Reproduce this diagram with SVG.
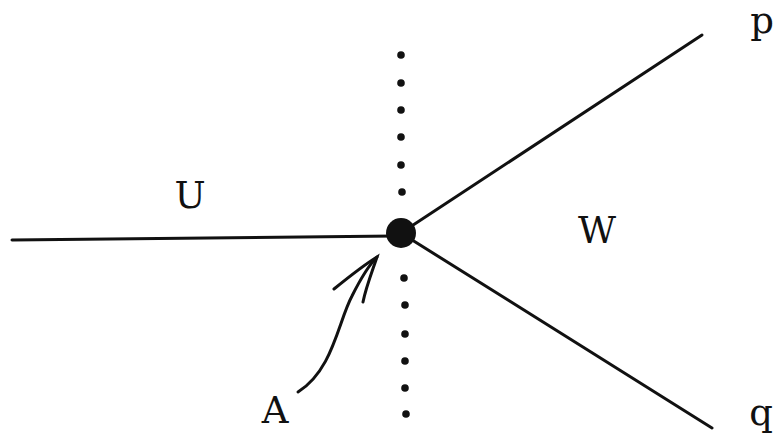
<svg xmlns="http://www.w3.org/2000/svg" width="778" height="436" viewBox="0 0 778 436">
<style>
.edge{stroke:#111;stroke-width:3;fill:none;stroke-linecap:round}
.dot{fill:#111}
.lbl{font-family:"DejaVu Serif","Liberation Serif",serif;font-size:37px;fill:#111;text-anchor:middle}
</style>
<rect width="778" height="436" fill="#fff"/>
<g id="connectors">
<line class="edge" x1="12" y1="240" x2="395" y2="236" stroke-width="3.5"/>
<line class="edge" x1="401" y1="233" x2="702" y2="35"/>
<line class="edge" x1="401" y1="233" x2="712" y2="428"/>
<path class="edge" d="M298,392 C333,370 338,322 352,296 C360,280 368,266 377,257"/>
<path class="edge" d="M334,289 C350,276 364,265 377,257 C372,272 366,287 363,302"/>
</g>
<g id="divider">
<circle class="dot" cx="401" cy="55" r="3.8"/>
<circle class="dot" cx="401" cy="83" r="3.8"/>
<circle class="dot" cx="401" cy="110" r="3.8"/>
<circle class="dot" cx="401" cy="137" r="3.8"/>
<circle class="dot" cx="401" cy="165" r="3.8"/>
<circle class="dot" cx="402" cy="192" r="3.8"/>
<circle class="dot" cx="404" cy="278" r="3.8"/>
<circle class="dot" cx="405" cy="305" r="3.8"/>
<circle class="dot" cx="405" cy="334" r="3.8"/>
<circle class="dot" cx="405" cy="361" r="3.8"/>
<circle class="dot" cx="405" cy="388" r="3.8"/>
<circle class="dot" cx="406" cy="414" r="3.8"/>
</g>
<g id="node-junction">
<circle cx="401" cy="233" r="15" fill="#111"/>
</g>
<g id="label-U"><text class="lbl" x="190" y="208">U</text></g>
<g id="label-W"><text class="lbl" x="597" y="243">W</text></g>
<g id="label-A"><text class="lbl" x="275" y="423">A</text></g>
<g id="label-p"><text class="lbl" x="762" y="33">p</text></g>
<g id="label-q"><text class="lbl" x="761" y="425">q</text></g>
</svg>
